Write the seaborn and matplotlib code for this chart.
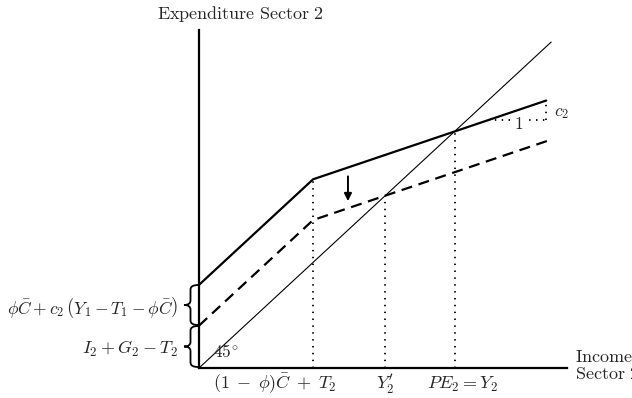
import numpy as np
import pandas as pd
import matplotlib
matplotlib.use("Agg")
import matplotlib.pyplot as plt
from matplotlib.path import Path
from matplotlib.patches import PathPatch
import seaborn as sns

# Model parameters (income units; the 45-degree line is y = x)
autonomous = 1.30        # I2 + G2 - T2
shift = 1.25             # phi*C + c2 (Y1 - T1 - phi*C)
kink = 3.24              # (1 - phi) C + T2
c2 = 0.365               # marginal propensity to consume in sector 2
solid_end = 9.86
dashed_end = 10.03
diag_end = 10.0

x_max, y_max = 10.45, 10.37

bottom_labels = [r"$(1\;-\;\phi)\bar{C}\;+\;T_2$", r"$Y_2'$", r"$PE_2=Y_2$"]
brace_labels = [r"$\phi\bar{C}+c_2\,\left(Y_1-T_1-\phi\bar{C}\right)$",
                r"$I_2+G_2-T_2$"]


def expenditure(x, intercept):
    x = np.asarray(x, dtype=float)
    return np.where(x < kink, intercept + x, intercept + kink + c2 * (x - kink))


def equilibrium(intercept):
    # solve intercept + kink + c2 (Y - kink) = Y
    return (intercept + kink - c2 * kink) / (1 - c2)


sns.set_style("white")
plt.rcParams["mathtext.fontset"] = "cm"
plt.rcParams["font.family"] = ["DejaVu Serif"]

fig = plt.figure(figsize=(6.32, 3.98), dpi=100)
ax = fig.add_axes([199 / 632, 30 / 398, 368 / 632, 338 / 398])
ax.set_xlim(0, x_max)
ax.set_ylim(0, y_max)
for side in ["top", "right"]:
    ax.spines[side].set_visible(False)
for side in ["left", "bottom"]:
    ax.spines[side].set_linewidth(1.6)
    ax.spines[side].set_color("black")
ax.set_xticks([])
ax.set_yticks([])


def px_to_data(px, py):
    return ((px - 199) / 35.2, (368 - py) / 32.6)


# 45-degree line
diag = pd.DataFrame({"x": [0, diag_end], "y": [0, diag_end]})
sns.lineplot(data=diag, x="x", y="y", ax=ax, color="black", lw=0.8)

# Expenditure lines before and after the shift
xs_solid = [0, kink, solid_end]
xs_dashed = [0, kink, dashed_end]
top = pd.DataFrame({"x": xs_solid, "y": expenditure(xs_solid, autonomous + shift)})
low = pd.DataFrame({"x": xs_dashed, "y": expenditure(xs_dashed, autonomous)})
sns.lineplot(data=top, x="x", y="y", ax=ax, color="black", lw=1.6)
sns.lineplot(data=low, x="x", y="y", ax=ax, color="black", lw=1.6,
             dashes=False, linestyle=(0, (5, 3)))

y_eq = equilibrium(autonomous + shift)
y_eq_new = equilibrium(autonomous)

dot = dict(color="black", lw=1.3, linestyle=(0, (0.8, 3)))
ax.plot([kink, kink], [0, autonomous + shift + kink], **dot)
ax.plot([y_eq_new, y_eq_new], [0, y_eq_new], **dot)
ax.plot([y_eq, y_eq], [0, y_eq], **dot)

# slope triangle
x_tri = 8.2
y_tri = float(expenditure(x_tri, autonomous + shift))
y_end = float(expenditure(solid_end, autonomous + shift))
ax.plot([x_tri, solid_end], [y_tri, y_tri], **dot)
ax.plot([solid_end, solid_end], [y_tri, y_end], **dot)
ax.text((x_tri + solid_end) / 2 + 0.05, y_tri - 0.12, r"$1$", fontsize=12.5,
        ha="center", va="center",
        bbox=dict(facecolor="white", edgecolor="none", pad=0.3))
ax.text(solid_end + 0.22, (y_tri + y_end) / 2 - 0.05, r"$c_2$", fontsize=12.5,
        ha="left", va="center")

# downward shift arrow
ax.annotate("", xy=(4.23, 5.12), xytext=(4.23, 5.88),
            arrowprops=dict(arrowstyle="-|>", color="black", lw=1.4,
                            mutation_scale=11, shrinkA=0, shrinkB=0))

ax.text(0.4, 0.49, r"$45^{\circ}$", fontsize=12.5, ha="left", va="center")

# axis titles
ax.text(1.19, 10.86, r"$\mathrm{Expenditure\ Sector\ 2}$", fontsize=13,
        ha="center", va="center", clip_on=False)
ax.text(10.68, 0.34, r"$\mathrm{Income}$", fontsize=13, ha="left",
        va="center", clip_on=False)
ax.text(10.68, -0.17, r"$\mathrm{Sector\ 2}$", fontsize=13, ha="left",
        va="center", clip_on=False)

# labels under the horizontal axis
label_y = px_to_data(0, 384)[1]
ax.text(px_to_data(336, 0)[0], label_y, bottom_labels[0], fontsize=13,
        ha="right", va="center", clip_on=False)
ax.text(y_eq_new, label_y, bottom_labels[1], fontsize=13,
        ha="center", va="center", clip_on=False)
ax.text(px_to_data(462, 0)[0], label_y, bottom_labels[2], fontsize=13,
        ha="center", va="center", clip_on=False)


def brace(py_top, py_bot, xr=198.0):
    x0, xt, r = xr - 7.5, xr - 14.0, 4.5
    mid = (py_top + py_bot) / 2
    pts = [(xr, py_top), (x0, py_top), (x0, py_top + r),
           (x0, mid - r), (x0, mid), (xt, mid),
           (x0, mid), (x0, mid + r),
           (x0, py_bot - r), (x0, py_bot), (xr, py_bot)]
    codes = [Path.MOVETO, Path.CURVE3, Path.CURVE3,
             Path.LINETO, Path.CURVE3, Path.CURVE3,
             Path.CURVE3, Path.CURVE3,
             Path.LINETO, Path.CURVE3, Path.CURVE3]
    path = Path([px_to_data(*p) for p in pts], codes)
    ax.add_patch(PathPatch(path, facecolor="none", edgecolor="black", lw=1.3,
                           clip_on=False))


brace(285, 325)
brace(326, 367)
ax.text(px_to_data(178, 0)[0], px_to_data(0, 307)[1], brace_labels[0],
        fontsize=12.5, ha="right", va="center", clip_on=False)
ax.text(px_to_data(178, 0)[0], px_to_data(0, 349)[1], brace_labels[1],
        fontsize=13, ha="right", va="center", clip_on=False)

fig.savefig("out.png", dpi=100)
